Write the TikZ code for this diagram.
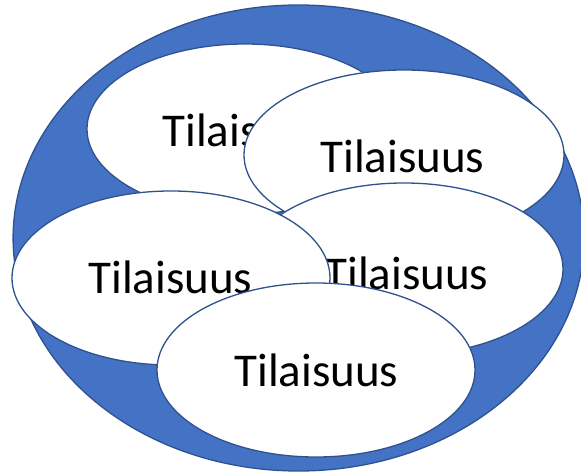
\documentclass[tikz,border=0pt]{standalone}
\usepackage{fontspec}
\setmainfont{Carlito}
\usetikzlibrary{shapes.geometric}
\definecolor{ringblue}{HTML}{4472C4}
\definecolor{edgeblue}{HTML}{2F528F}
\tikzset{
  ring/.style={ellipse, draw=edgeblue, fill=ringblue, line width=1.3pt, inner sep=0pt},
  bubble/.style={ellipse, draw=edgeblue, fill=white, line width=1.3pt, inner sep=0pt,
                 minimum width=318pt, minimum height=172pt},
  lbl/.style={anchor=base, inner sep=0pt, font=\fontsize{47}{50}\selectfont}
}
\begin{document}
\begin{tikzpicture}[x=1pt, y=-1pt]
\useasboundingbox (0,0) rectangle (581,473);
\fill[white] (0,0) rectangle (581,473);
\node[ring, minimum width=571pt, minimum height=466pt] (outer) at (298.6,238) {};
\node[bubble, minimum width=316pt, minimum height=170pt] (tl) at (245,129) {};
\node[lbl] (tltext) at (244.5,147) {Tilaisuus};
\node[bubble, minimum width=320pt, minimum height=170pt] (tr) at (404,155) {};
\node[lbl] (trtext) at (402.5,173) {Tilaisuus};
\node[bubble] (mr) at (404,269) {};
\node[lbl] (mrtext) at (406.5,289) {Tilaisuus};
\node[bubble, minimum height=174pt] (ml) at (171,278) {};
\node[lbl] (mltext) at (170.5,293) {Tilaisuus};
\node[bubble, minimum height=174pt] (bt) at (316,370) {};
\node[lbl] (bttext) at (316.5,386) {Tilaisuus};
\end{tikzpicture}
\end{document}
